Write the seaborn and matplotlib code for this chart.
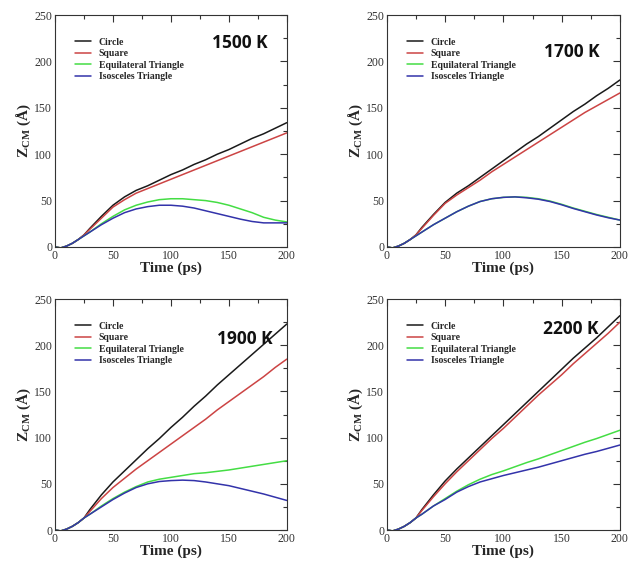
import numpy as np
import pandas as pd
import matplotlib
matplotlib.use('Agg')
import matplotlib.pyplot as plt
import seaborn as sns
from matplotlib.ticker import MultipleLocator

time_ps = [0, 5, 10, 15, 20, 25, 30, 40, 50, 60, 70, 80, 90, 100, 110, 120,
           130, 140, 150, 160, 170, 180, 190, 200]

shapes = ['Circle', 'Square', 'Equilateral Triangle', 'Isosceles Triangle']
temps = ['1500 K', '1700 K', '1900 K', '2200 K']

circle_1500 = [0, -1, 1, 4, 8, 13, 20, 33, 45, 54, 61, 66, 72, 78, 83, 89, 94, 100, 105, 111, 117, 122, 128, 134]
square_1500 = [0, -1, 1, 4, 8, 13, 19, 31, 43, 51, 58, 63, 68, 73, 78, 83, 88, 93, 98, 103, 108, 113, 118, 123]
eq_1500 = [0, -1, 1, 4, 8, 12, 16, 25, 33, 40, 45, 48.5, 51, 52, 52, 51, 50, 48, 45, 41, 37, 32, 29, 27]
iso_1500 = [0, -1, 1, 4, 8, 12, 16, 24, 31, 37, 41, 43.5, 45, 45, 44, 42, 39, 36, 33, 30, 27.5, 26, 26, 26]

circle_1700 = [0, -1, 1, 4, 8, 13, 21, 35, 48, 58, 66, 75, 84, 93, 102, 111, 119, 128, 137, 146, 154, 163, 171, 180]
square_1700 = [0, -1, 1, 4, 8, 13, 20, 34, 47, 56, 64, 72, 81, 89, 97, 105, 113, 121, 129, 137, 145, 152, 159, 166]
eq_1700 = [0, -1, 1, 4, 8, 12, 16, 24, 31, 38, 44, 49, 52, 53.5, 54, 53.5, 52, 49.5, 46, 42, 38.5, 35, 32, 29]
iso_1700 = [0, -1, 1, 4, 8, 12, 16, 24, 31, 38, 44, 49, 52, 53.5, 54, 53, 51.5, 49, 45.5, 41.5, 38, 34.5, 31.5, 29]

circle_1900 = [0, -1, 1, 4, 8, 13, 22, 38, 52, 64, 76, 88, 99, 111, 122, 134, 145, 157, 168, 179, 190, 201, 212, 223]
square_1900 = [0, -1, 1, 4, 8, 13, 20, 34, 46, 56, 66, 75, 84, 93, 102, 111, 120, 130, 139, 148, 157, 166, 176, 185]
eq_1900 = [0, -1, 1, 4, 8, 13, 17, 26, 34, 41, 47, 52, 55, 57, 59, 61, 62, 63.5, 65, 67, 69, 71, 73, 75]
iso_1900 = [0, -1, 1, 4, 8, 13, 17, 25, 33, 40, 46, 50, 52.5, 53.5, 54, 53.5, 52, 50, 48, 45, 42, 39, 35.5, 32]

circle_2200 = [0, -1, 1, 4, 8, 13, 22, 38, 53, 66, 78, 90, 102, 114, 126, 138, 150, 162, 174, 186, 197, 208, 220, 232]
square_2200 = [0, -1, 1, 4, 8, 13, 21, 36, 50, 63, 75, 87, 99, 110, 122, 134, 146, 157, 168, 180, 191, 202, 213, 225]
eq_2200 = [0, -1, 1, 4, 8, 13, 17, 26, 34, 42, 49, 55, 60, 64, 68.5, 73, 77, 81.5, 86, 90.5, 95, 99, 103.5, 108]
iso_2200 = [0, -1, 1, 4, 8, 13, 17, 26, 33, 41, 47, 52, 55.5, 59, 62, 65, 68, 71.5, 75, 78.5, 82, 85, 88.5, 92]

series = {
    '1500 K': [circle_1500, square_1500, eq_1500, iso_1500],
    '1700 K': [circle_1700, square_1700, eq_1700, iso_1700],
    '1900 K': [circle_1900, square_1900, eq_1900, iso_1900],
    '2200 K': [circle_2200, square_2200, eq_2200, iso_2200],
}

colors = {'Circle': '#1a1a1a', 'Square': '#cc4444',
          'Equilateral Triangle': '#44dd44', 'Isosceles Triangle': '#3333aa'}

rows = []
for t in temps:
    for shape, vals in zip(shapes, series[t]):
        for x, y in zip(time_ps, vals):
            rows.append({'temp': t, 'shape': shape, 'time': x, 'z': y})
df = pd.DataFrame(rows)

sns.set_style('white')
plt.rcParams['font.family'] = ['Liberation Serif', 'DejaVu Serif']
plt.rcParams['mathtext.fontset'] = 'custom'
plt.rcParams['mathtext.rm'] = 'Liberation Serif'
plt.rcParams['mathtext.bf'] = 'Liberation Serif:bold'

fig = plt.figure(figsize=(6.3, 5.62), dpi=100)
positions = [
    [0.0873, 0.5605, 0.368, 0.4128],
    [0.614, 0.5605, 0.370, 0.4128],
    [0.0873, 0.0569, 0.368, 0.411],
    [0.614, 0.0569, 0.370, 0.411],
]
# where the temperature tag sits in each panel (axes coords)
tag_pos = [(0.918, 0.879), (0.914, 0.84), (0.94, 0.827), (0.906, 0.87)]

for t, pos, (tx, ty) in zip(temps, positions, tag_pos):
    ax = fig.add_axes(pos)
    sub = df[df.temp == t]
    sns.lineplot(data=sub, x='time', y='z', hue='shape', hue_order=shapes,
                 palette=colors, linewidth=1.1, ax=ax)
    ax.set_xlim(0, 200)
    ax.set_ylim(0, 250)
    ax.xaxis.set_major_locator(MultipleLocator(50))
    ax.xaxis.set_minor_locator(MultipleLocator(25))
    ax.yaxis.set_major_locator(MultipleLocator(50))
    ax.yaxis.set_minor_locator(MultipleLocator(25))
    ax.tick_params(which='both', direction='in', top=True, right=True,
                   labelsize=8.5, colors='#333333', pad=2)
    ax.tick_params(which='major', length=5, width=0.8)
    ax.tick_params(which='minor', length=3, width=0.8)
    for sp in ax.spines.values():
        sp.set_color('#333333')
        sp.set_linewidth(0.8)
    ax.set_xlabel('Time (ps)', fontsize=11, fontweight='bold', labelpad=0)
    ax.set_ylabel(r'$\mathbf{Z}_{\mathbf{CM}}$ (Å)', fontsize=11,
                  fontweight='bold', labelpad=1)
    ax.legend(loc='upper left', bbox_to_anchor=(0.05, 0.94), frameon=False,
              prop={'family': 'Liberation Serif', 'weight': 'bold', 'size': 7},
              handlelength=1.6, labelspacing=0.25, handletextpad=0.8)
    ax.text(tx, ty, t, transform=ax.transAxes, ha='right', va='center',
            fontsize=12.5, fontweight='bold', family='Open Sans', color='#111111')

fig.savefig('out.png', dpi=100)
